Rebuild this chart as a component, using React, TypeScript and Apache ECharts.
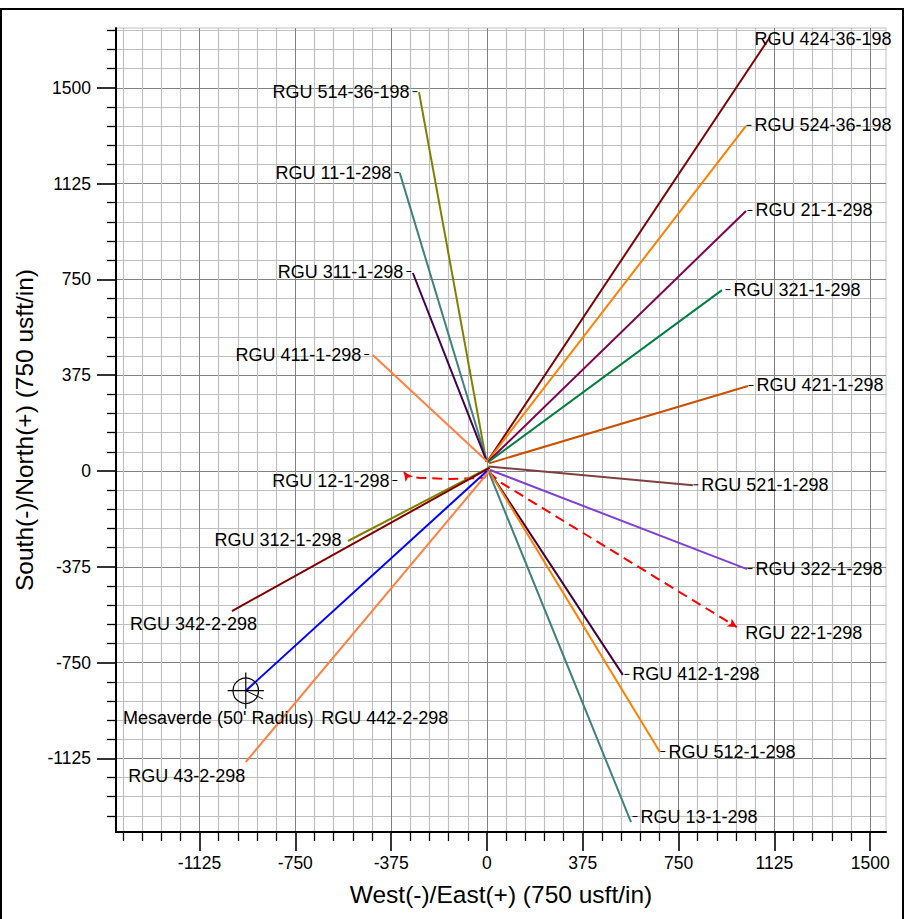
import React, { useEffect, useRef } from "react";
import * as echarts from "echarts";

// ---------- axis ranges & ticks (usft) ----------
const X_MIN = -1452;
const X_MAX = 1562;
const Y_MIN = -1413;
const Y_MAX = 1734;
const X_MAJOR_TICKS = [-1125, -750, -375, 0, 375, 750, 1125, 1500];
const Y_MAJOR_TICKS = [-1125, -750, -375, 0, 375, 750, 1125, 1500];
const MINOR_STEP = 75;
const MAJOR_STEP = 375;

// ---------- wells: [East(+)/West(-), North(+)/South(-)] ----------
const WELL_NAMES = [
  "RGU 424-36-198",
  "RGU 524-36-198",
  "RGU 21-1-298",
  "RGU 321-1-298",
  "RGU 421-1-298",
  "RGU 521-1-298",
  "RGU 322-1-298",
  "RGU 22-1-298",
  "RGU 412-1-298",
  "RGU 512-1-298",
  "RGU 13-1-298",
  "RGU 514-36-198",
  "RGU 11-1-298",
  "RGU 311-1-298",
  "RGU 411-1-298",
  "RGU 12-1-298",
  "RGU 312-1-298",
  "RGU 342-2-298",
  "RGU 442-2-298",
  "RGU 43-2-298",
];

const WELL_PATHS: number[][][] = [
  [[2, 38], [1108, 1699]],
  [[2, 38], [1014, 1351]],
  [[4, 36], [1014, 1018]],
  [[4, 34], [920, 708]],
  [[8, 30], [1022, 333]],
  [[6, 18], [806, -56]],
  [[12, 4], [1018, -384]],
  [[8, -4], [51, -43], [978, -611]],
  [[6, 4], [532, -798]],
  [[6, 4], [677, -1100]],
  [[4, 4], [564, -1374]],
  [[-2, 36], [-266, 1483]],
  [[0, 36], [-341, 1166]],
  [[0, 36], [-290, 775]],
  [[2, 36], [-447, 454]],
  [[4, -8], [-12, -27], [-145, -31], [-262, -27], [-313, -20], [-325, -4]],
  [[10, 14], [-544, -274]],
  [[10, 12], [-998, -548]],
  [[0, 0], [-944, -860]],
  [[8, -2], [-944, -1139]],
];

const PLANNED_WELLS = ["RGU 22-1-298", "RGU 12-1-298"];

const TARGET_NAME = "Mesaverde (50' Radius)";
const TARGET_CENTER = [-944, -860];
const TARGET_RADIUS = 50;

// ---------- styles ----------
const FONT = "'Liberation Sans', Arial, Helvetica, sans-serif";

const WELL_COLORS: Record<string, string> = {
  "RGU 424-36-198": "#800000",
  "RGU 524-36-198": "#FF8000",
  "RGU 21-1-298": "#800050",
  "RGU 321-1-298": "#008040",
  "RGU 421-1-298": "#C85000",
  "RGU 521-1-298": "#804040",
  "RGU 322-1-298": "#8040D0",
  "RGU 22-1-298": "#FF0000",
  "RGU 412-1-298": "#400040",
  "RGU 512-1-298": "#FF8000",
  "RGU 13-1-298": "#408080",
  "RGU 514-36-198": "#808000",
  "RGU 11-1-298": "#408080",
  "RGU 311-1-298": "#400050",
  "RGU 411-1-298": "#FF8040",
  "RGU 12-1-298": "#FF0000",
  "RGU 312-1-298": "#808000",
  "RGU 342-2-298": "#800000",
  "RGU 442-2-298": "#0000FF",
  "RGU 43-2-298": "#FF8040",
};

// side: r = right with leader, l = left with leader, R/L/C = no leader
const LABEL_LAYOUT: Record<string, { side: string; off: number[] }> = {
  "RGU 424-36-198": { side: "R", off: [-15, 3] },
  "RGU 524-36-198": { side: "r", off: [1, 0] },
  "RGU 21-1-298": { side: "r", off: [2, 0] },
  "RGU 321-1-298": { side: "r", off: [4, 0] },
  "RGU 421-1-298": { side: "r", off: [1, 0] },
  "RGU 521-1-298": { side: "r", off: [1, 0] },
  "RGU 322-1-298": { side: "r", off: [1, 0] },
  "RGU 22-1-298": { side: "R", off: [9, 6] },
  "RGU 412-1-298": { side: "r", off: [2, 0] },
  "RGU 512-1-298": { side: "r", off: [1, 0] },
  "RGU 13-1-298": { side: "r", off: [2, -5] },
  "RGU 514-36-198": { side: "l", off: [-1, 0] },
  "RGU 11-1-298": { side: "l", off: [0, 0] },
  "RGU 311-1-298": { side: "l", off: [-1, -1] },
  "RGU 411-1-298": { side: "l", off: [-3, 0] },
  "RGU 12-1-298": { side: "l", off: [-6, 9] },
  "RGU 312-1-298": { side: "L", off: [-6, -1] },
  "RGU 342-2-298": { side: "C", off: [-38, 13] },
  "RGU 442-2-298": { side: "R", off: [76, 28] },
  "RGU 43-2-298": { side: "L", off: [0, 15] },
};
const TARGET_LABEL_OFF = [-27, 28];

function minorTicks(min: number, max: number) {
  const out: number[] = [];
  for (let v = Math.ceil(min / MINOR_STEP) * MINOR_STEP; v <= max; v += MINOR_STEP) {
    if (v % MAJOR_STEP !== 0) out.push(v);
  }
  return out;
}

function buildOption() {
  const tickFormatter = (v: number) => String(Math.round(v));
  const labelFont = { fontFamily: FONT, fontSize: 17.5, color: "#000" };
  const nameFont = { fontFamily: FONT, fontSize: 24.5, color: "#000" };

  const minorAxis = (min: number, max: number, pos: string, ticks: number[]) => ({
    type: "value",
    min,
    max,
    position: pos,
    axisLine: { show: false, onZero: false },
    axisTick: { show: true, length: 9, customValues: ticks, lineStyle: { color: "#000", width: 1.3 } },
    axisLabel: { show: false },
    splitLine: { show: true, lineStyle: { color: "#c0c0c0", width: 1.2 } },
  });

  const majorAxis = (min: number, max: number, pos: string, ticks: number[], name: string, gap: number) => ({
    type: "value",
    min,
    max,
    position: pos,
    name,
    nameLocation: "middle",
    nameGap: gap,
    nameTextStyle: nameFont,
    axisLine: { show: true, onZero: false, lineStyle: { color: "#000", width: 2 } },
    axisTick: { show: true, length: 19, customValues: ticks, lineStyle: { color: "#000", width: 1.6 } },
    axisLabel: { show: true, customValues: ticks, margin: pos === "left" ? 25 : 22, formatter: tickFormatter, ...labelFont },
    splitLine: { show: true, lineStyle: { color: "#808080", width: 1 } },
  });

  const wellSeries = WELL_NAMES.map((name, i) => {
    const path = WELL_PATHS[i];
    const planned = PLANNED_WELLS.includes(name);
    const color = WELL_COLORS[name];
    const data = path.map((p, j) => {
      if (planned && j === path.length - 1) {
        const a = path[j - 1];
        const ang = (Math.atan2(p[1] - a[1], p[0] - a[0]) * 180) / Math.PI - 90;
        return { value: p, symbol: "arrow", symbolSize: [7, 9], symbolRotate: ang };
      }
      return { value: p };
    });
    return {
      type: "line",
      name,
      xAxisIndex: 1,
      yAxisIndex: 1,
      data,
      symbol: "none",
      showSymbol: true,
      silent: true,
      z: 3,
      itemStyle: { color },
      lineStyle: { color, width: 2, type: planned ? [10, 6] : "solid" },
    };
  });

  const rich = {
    tr: { fontFamily: FONT, fontSize: 18, color: "#000", padding: [0, 0, 0, 3] },
    tl: { fontFamily: FONT, fontSize: 18, color: "#000", padding: [0, 3, 0, 0] },
    t: { fontFamily: FONT, fontSize: 18, color: "#000" },
    l: { width: 5, height: 1, backgroundColor: "#000" },
  };

  const labelData = WELL_NAMES.map((name, i) => {
    const path = WELL_PATHS[i];
    const end = path[path.length - 1];
    const lay = LABEL_LAYOUT[name];
    let text = "{t|" + name + "}";
    let align = "left";
    if (lay.side === "r") text = "{l|}{tr|" + name + "}";
    if (lay.side === "l") {
      text = "{tl|" + name + "}{l|}";
      align = "right";
    }
    if (lay.side === "L") align = "right";
    if (lay.side === "C") align = "center";
    return {
      value: end,
      name,
      label: {
        show: true,
        position: lay.off,
        align,
        verticalAlign: "middle",
        color: "#000",
        opacity: 1,
        formatter: text,
        rich,
      },
    };
  });
  labelData.push({
    value: TARGET_CENTER,
    name: TARGET_NAME,
    label: {
      show: true,
      position: TARGET_LABEL_OFF,
      align: "center",
      verticalAlign: "middle",
      color: "#000",
      opacity: 1,
      formatter: "{t|" + TARGET_NAME + "}",
      rich,
    },
  });

  return {
    animation: false,
    backgroundColor: "#fff",
    grid: {
      left: 116,
      top: 28,
      right: 20,
      bottom: 87,
      show: true,
      borderColor: "#c0c0c0",
      borderWidth: 1,
      containLabel: false,
      outerBoundsMode: "none",
    },
    xAxis: [
      minorAxis(X_MIN, X_MAX, "bottom", minorTicks(X_MIN, X_MAX)),
      majorAxis(X_MIN, X_MAX, "bottom", X_MAJOR_TICKS, "West(-)/East(+) (750 usft/in)", 50),
    ],
    yAxis: [
      minorAxis(Y_MIN, Y_MAX, "left", minorTicks(Y_MIN, Y_MAX)),
      majorAxis(Y_MIN, Y_MAX, "left", Y_MAJOR_TICKS, "South(-)/North(+) (750 usft/in)", 74),
    ],
    graphic: [
      {
        type: "rect",
        shape: { x: 1, y: 9, width: 902, height: 920 },
        style: { fill: "none", stroke: "#000", lineWidth: 2 },
        silent: true,
        z: 100,
      },
    ],
    series: [
      ...wellSeries,
      {
        type: "custom",
        name: TARGET_NAME,
        xAxisIndex: 1,
        yAxisIndex: 1,
        silent: true,
        z: 4,
        clip: false,
        data: [[TARGET_CENTER[0], TARGET_CENTER[1], TARGET_RADIUS]],
        renderItem: (_params: any, api: any) => {
          const c = api.coord([api.value(0), api.value(1)]);
          const r = api.size([api.value(2), 0])[0];
          const ext = r * 1.42;
          const st = { stroke: "#000", lineWidth: 1.2, fill: "none" };
          return {
            type: "group",
            children: [
              { type: "circle", shape: { cx: c[0], cy: c[1], r }, style: st },
              { type: "line", shape: { x1: c[0] - ext, y1: c[1], x2: c[0] + ext, y2: c[1] }, style: st },
              { type: "line", shape: { x1: c[0], y1: c[1] - ext, x2: c[0], y2: c[1] + ext }, style: st },
              { type: "line", shape: { x1: c[0], y1: c[1], x2: c[0] + r * 1.35, y2: c[1] + r * 0.65 }, style: { stroke: "#000", lineWidth: 1 } },
            ],
          };
        },
      },
      {
        type: "scatter",
        name: "labels",
        xAxisIndex: 1,
        yAxisIndex: 1,
        silent: true,
        z: 6,
        symbol: "circle",
        symbolSize: 1,
        itemStyle: { color: "rgba(0,0,0,0)" },
        data: labelData,
      },
    ],
  };
}

export default function App() {
  const ref = useRef<HTMLDivElement>(null);
  useEffect(() => {
    if (!ref.current) return;
    const chart = echarts.init(ref.current, null, { renderer: "svg" });
    chart.setOption(buildOption() as any);
    return () => chart.dispose();
  }, []);
  return (
    <div
      ref={ref}
      style={{ position: "fixed", left: 0, top: 0, width: 906, height: 919, background: "#fff" }}
    />
  );
}
